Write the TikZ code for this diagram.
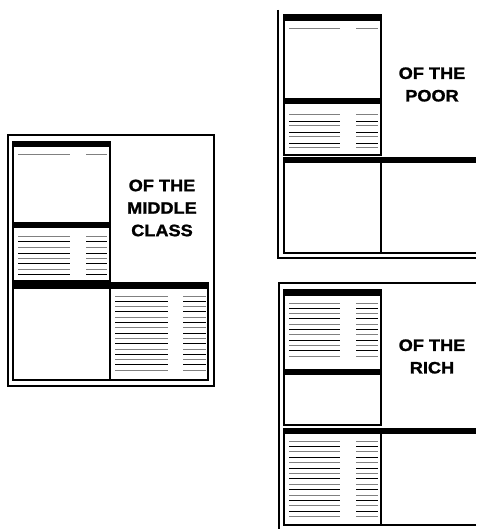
\documentclass[tikz,border=0pt]{standalone}
\usepackage{fontspec}
\setmainfont{Liberation Sans}
\newfontfamily\heavyfont[FakeBold=1.3]{Liberation Sans Bold}
\begin{document}
\begin{tikzpicture}[x=1pt,y=-1pt,
  frame/.style={draw=black,line width=1.3pt},
  boxln/.style={draw=black,line width=1.2pt},
  bar/.style={fill=black},
  tlb/.style={draw=black,line width=0.9pt},
  tlg/.style={draw=black!50,line width=1pt},
  label/.style={font=\heavyfont\fontsize{16.5}{22.5}\selectfont,align=center,inner sep=0pt,xscale=1.1}]
\useasboundingbox (0,0) rectangle (476,529);
% column of text lines: #1 = list of y, left col x2..x3, right col x4..x5
\newcommand{\txtlines}[5]{%
  \foreach \yy [count=\ii] in {#1}{%
    \ifodd\ii
      \draw[tlg] (#2,\yy) -- (#3,\yy); \draw[tlg] (#4,\yy) -- (#5,\yy);
    \else
      \draw[tlb] (#2,\yy) -- (#3,\yy); \draw[tlb] (#4,\yy) -- (#5,\yy);
    \fi}}

% ===== Middle class panel =====
\draw[frame] (8,135) rectangle (214,386);
\draw[boxln] (13,142) rectangle (110,281);
\fill[bar] (13,142) rectangle (110,147.5);
\fill[bar] (13,222) rectangle (110,228);
\txtlines{155}{18}{70}{86}{107}
\txtlines{236,241,247,253,258,263,269,274}{18}{70}{86}{107}
\fill[bar] (13,283) rectangle (208,289);
\draw[boxln] (13,283) rectangle (110,380);
\draw[boxln] (110,283) rectangle (208,380);
\txtlines{296,301.3,306.6,311.9,317.2,322.5,327.8,333.1,338.4,343.7,349,354.3,359.6,364.9,370.2}{115}{168}{183}{206}
\node[label] (mid) at (162,208) {OF THE\\MIDDLE\\CLASS};

% ===== Poor panel =====
\draw[frame] (278,10) -- (278,258) -- (476,258);
\draw[boxln] (284,15) rectangle (381,155);
\fill[bar] (284,15) rectangle (381,21);
\fill[bar] (284,98) rectangle (381,104);
\txtlines{29}{289}{340}{356}{378}
\txtlines{115,121,126,132,137,143,148}{289}{340}{356}{378}
\fill[bar] (284,157) rectangle (476,163.5);
\draw[boxln] (476,253) -- (284,253) -- (284,157);
\draw[boxln] (381,157) -- (381,253);
\node[label] (poor) at (432,84.5) {OF THE\\POOR};

% ===== Rich panel =====
\draw[frame] (279,529) -- (279,283) -- (476,283);
\draw[boxln] (284,290) rectangle (381,425);
\fill[bar] (284,290) rectangle (381,296);
\fill[bar] (284,369) rectangle (381,375);
\txtlines{303,308.3,313.6,318.9,324.2,329.5,334.8,340.1,345.4,350.7,356}{289}{340}{356}{378}
\fill[bar] (284,428) rectangle (476,433.5);
\draw[boxln] (476,525) -- (284,525) -- (284,428);
\draw[boxln] (381,428) -- (381,525);
\txtlines{441,446.4,451.8,457.2,462.6,468,473.4,478.8,484.2,489.6,495,500.4,505.8,511.2,516.6}{289}{340}{356}{378}
\node[label] (rich) at (432,356.5) {OF THE\\RICH};
\end{tikzpicture}
\end{document}
